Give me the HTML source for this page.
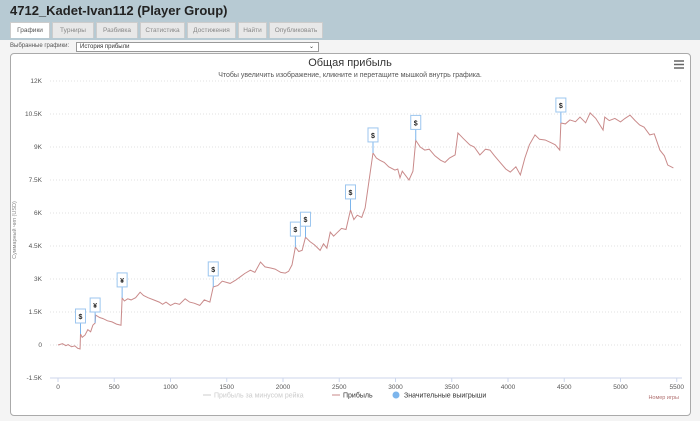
<!DOCTYPE html>
<html><head><meta charset="utf-8"><style>
body{margin:0;width:700px;height:421px;overflow:hidden;background:#f4f4f4;font-family:"Liberation Sans",sans-serif;}
#top{position:absolute;left:0;top:0;width:700px;height:40px;background:#b7cad3;}
#ttl{position:absolute;left:10px;top:3px;font-size:13px;font-weight:bold;color:#222;}
.tab{position:absolute;top:22px;height:15px;font-size:6.5px;color:#888;background:#e8e8e8;border:1px solid #ccc;border-bottom:none;text-align:center;line-height:15px;}
#sel{position:absolute;left:10px;top:43px;font-size:6px;color:#555;}
#dd{position:absolute;left:76px;top:42px;width:238px;height:8px;border:1px solid #999;background:#fff;font-size:6px;line-height:8px;color:#333;padding-left:3px;}
#panel{position:absolute;left:10px;top:53px;width:679px;height:361px;border:1px solid #aaa;border-radius:4px;background:#fff;}
</style></head><body>
<div id="top"><div id="ttl">4712_Kadet-Ivan112 (Player Group)</div>
<div class="tab" style="left:10px;width:38px;background:#fff;color:#555">Графики</div>
<div class="tab" style="left:52px;width:40px">Турниры</div>
<div class="tab" style="left:96px;width:40px">Разбивка</div>
<div class="tab" style="left:140px;width:43px">Статистика</div>
<div class="tab" style="left:187px;width:47px">Достижения</div>
<div class="tab" style="left:238px;width:27px">Найти</div>
<div class="tab" style="left:269px;width:52px">Опубликовать</div>
</div>
<div id="sel">Выбранные графики:</div>
<div id="dd">История прибыли<span style="position:absolute;right:4px;top:0">&#8964;</span></div>
<div id="panel"></div>
<svg id="c" width="700" height="421" style="position:absolute;left:0;top:0"></svg>
<script>
const games=[0,40,70,90,120,150,175,196,200,215,240,265,290,310,330,335,370,400,440,480,520,560,570,590,620,650,690,730,760,800,850,900,930,960,1000,1040,1080,1130,1170,1210,1260,1300,1350,1380,1420,1460,1530,1580,1620,1660,1710,1750,1800,1840,1890,1930,1980,2020,2050,2080,2110,2140,2170,2200,2240,2280,2330,2360,2390,2420,2450,2480,2520,2560,2600,2630,2660,2700,2730,2800,2830,2860,2900,2940,2995,3020,3040,3060,3090,3120,3155,3180,3220,3260,3300,3350,3400,3440,3480,3530,3555,3600,3660,3700,3750,3800,3840,3880,3930,3980,4020,4070,4110,4150,4190,4240,4280,4330,4380,4420,4460,4470,4510,4550,4600,4640,4690,4730,4780,4845,4860,4900,4950,5000,5040,5085,5130,5170,5210,5260,5300,5350,5390,5420,5470];
const profit=[0,60,-30,20,-80,-40,-150,-180,500,350,450,700,600,900,1000,1360,1250,1200,1100,1050,950,900,2140,2000,2100,2050,2150,2400,2250,2150,2050,1950,1850,1950,1800,1900,1850,2100,1950,1900,1800,2050,1950,2640,2700,2900,2800,2950,3100,3250,3400,3300,3770,3550,3500,3450,3300,3270,3350,3640,4450,4250,4300,4900,4700,4550,4300,4600,4400,5130,4950,5100,5300,5250,6140,5700,5900,5800,6230,8730,8500,8400,8300,8100,7950,8000,7600,7900,7700,7500,7900,9300,9000,8860,8900,8600,8400,8300,8500,8640,9640,9400,9100,9000,8640,8900,8860,8600,8300,8000,7860,8100,7730,8500,9100,9550,9350,9320,9200,9100,8860,10090,10050,10230,10150,10360,10100,10550,10300,9770,10360,10200,10300,10140,10300,10450,10200,10000,9900,9550,9600,8860,8600,8180,8050];
const winGames=[200,330,570,1380,2110,2200,2600,2800,3180,4470];
const winSymbols=["$","¥","¥","$","$","$","$","$","$","$"];
const yTicks=[-1500,0,1500,3000,4500,6000,7500,9000,10500,12000];
const yLabels=["-1.5K","0","1.5K","3K","4.5K","6K","7.5K","9K","10.5K","12K"];
const xTicks=[0,500,1000,1500,2000,2500,3000,3500,4000,4500,5000,5500];
const X=g=>58+g*0.1125, Y=v=>345-v*0.022;
const s=document.getElementById('c'),NS='http://www.w3.org/2000/svg';
function el(t,a,txt){const e=document.createElementNS(NS,t);for(const k in a)e.setAttribute(k,a[k]);if(txt!=null)e.textContent=txt;s.appendChild(e);return e;}
yTicks.forEach((v,i)=>{
 const g=el('line',{x1:50,x2:682,y1:Y(v),y2:Y(v),stroke:i==0?'#ccd6eb':'#e0e0e0','stroke-dasharray':i==0?'':'1,2'});
 
 
 const t=el('text',{x:42,y:Y(v)+2,'text-anchor':'end','font-size':6.5,fill:'#555'},yLabels[i]);
 
 
});
xTicks.forEach(v=>{
 const l=el('line',{x1:X(v),x2:X(v),y1:378,y2:382,stroke:'#ccd6eb'});
 
 
 const t=el('text',{x:X(v),y:389,'text-anchor':'middle','font-size':6.5,fill:'#555'},String(v));
 
 
});
const line=el('polyline',{points:games.map((g,i)=>X(g)+','+Y(profit[i])).join(' '),fill:'none',stroke:'#c98a8a','stroke-width':1});


function valAt(g){for(let i=games.length-1;i>=0;i--)if(games[i]<=g)return profit[i];return 0;}
winGames.forEach((g,i)=>{
 const x=X(g),y=Y(valAt(g));
 const st=el('line',{x1:x,x2:x,y1:y,y2:y-11,stroke:'#7cb5ec'});
 
 
 const r=el('rect',{x:x-5,y:y-25,width:10,height:14,fill:'#fff',stroke:'#9cc6ef'});
 
 
 const t=el('text',{x:x,y:y-15,'text-anchor':'middle','font-size':7,'font-weight':'bold',fill:'#222'},winSymbols[i]);
 
 
});
</script>
<svg width="700" height="421" style="position:absolute;left:0;top:0;pointer-events:none">
<text x="350" y="66" text-anchor="middle" font-size="11" fill="#333">Общая прибыль</text>
<text x="350" y="77" text-anchor="middle" font-size="7" fill="#555">Чтобы увеличить изображение, кликните и перетащите мышкой внутрь графика.</text>
<g stroke="#666" stroke-width="1.5"><line x1="674" x2="684" y1="61" y2="61"/><line x1="674" x2="684" y1="64.5" y2="64.5"/><line x1="674" x2="684" y1="68" y2="68"/></g>
<text transform="translate(16,230) rotate(-90)" text-anchor="middle" font-size="5.5" fill="#888">Суммарный чип (USD)</text>
<text x="679" y="399" text-anchor="end" font-size="5.5" fill="#b07070">Номер игры</text>
<g>
<line x1="203" x2="211" y1="395" y2="395" stroke="#ccc"/><text x="214" y="397.5" font-size="7" fill="#ccc">Прибыль за минусом рейка</text>
<line x1="332" x2="340" y1="395" y2="395" stroke="#c98a8a"/><text x="343" y="397.5" font-size="7" fill="#333">Прибыль</text>
<circle cx="396" cy="395" r="3.5" fill="#7cb5ec"/><text x="404" y="397.5" font-size="7" fill="#333">Значительные выигрыши</text>
</g></svg>
</body></html>
